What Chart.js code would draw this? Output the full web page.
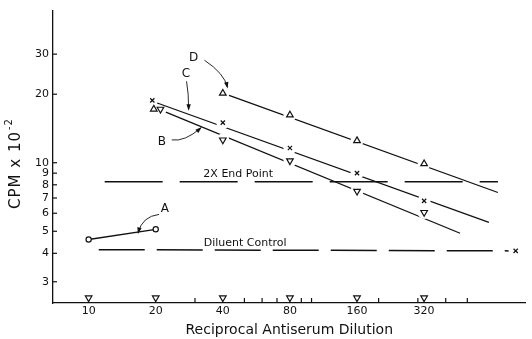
<!DOCTYPE html>
<html>
<head>
<meta charset="utf-8">
<script src="https://cdn.jsdelivr.net/npm/chart.js@4/dist/chart.umd.min.js"></script>
<style>
  html, body { margin: 0; padding: 0; background: #fff; }
  #wrap { width: 532px; height: 339px; }
</style>
</head>
<body>
<div id="wrap"><canvas id="cpmChart" width="532" height="339"></canvas></div>
<script>
// values: reciprocal antiserum dilution (x), CPM x 10^-2 (y)
const xTicks = [10, 20, 40, 80, 160, 320];
const xMinorTicks = [30, 50, 60, 70, 90, 100, 200, 300, 400, 500];
const yTicks = [3, 4, 5, 6, 7, 8, 9, 10, 20, 30];

const dilA = [10, 20];
const cpmA = [4.6, 5.1];

// the three points at 1:20 are drawn side by side in the original
const dilB = [21.0, 40, 80, 160, 320];
const cpmB = [17.2, 12.6, 10.2, 7.5, 6.05];

const dilC = [19.3, 40, 80, 160, 320];
const cpmC = [18.8, 15.0, 11.6, 9.0, 6.8];

const dilD = [19.6, 40, 80, 160, 320];
const cpmD = [17.2, 20.2, 16.2, 12.5, 9.9];

// fitted lines (start / end)
const fitDilB = [22.2, 464];
const fitCpmB = [16.7, 4.9];
const fitDilC = [20.3, 625];
const fitCpmC = [18.3, 5.47];
const fitDilD = [40, 686];
const fitCpmD = [20.2, 7.4];

// reference levels
const endPointDil = [11.8, 686];
const endPointCpm = [8.26, 8.26];
const diluentDil = [11.1, 766];
const diluentCpm = [4.15, 4.1];
const diluentMarkDil = [824];
const diluentMarkCpm = [4.1];

// open triangles sitting on the x axis
const baseDil = [10, 20, 40, 80, 160, 320];
const baseCpm = [2.55, 2.55, 2.55, 2.55, 2.55, 2.55];

const ink = '#111';
const family = '"DejaVu Sans", "Liberation Sans", sans-serif';

function pts(xs, ys) {
    return xs.map((x, i) => ({ x: x, y: ys[i] }));
}

// keep the gap round the plotted points on the fitted lines
function haloPts(xs, ys) {
    return pts(xs, ys).filter(p => p.x >= 40);
}

function markerSet(data, style, rot, r) {
    return {
        data: data,
        showLine: false,
        pointStyle: style,
        rotation: rot,
        pointRadius: r,
        pointBorderWidth: 1.2,
        pointBorderColor: ink,
        pointBackgroundColor: '#fff',
        clip: false,
        order: 0
    };
}

function lineSet(data, dash, width) {
    return {
        data: data,
        showLine: true,
        borderColor: ink,
        borderWidth: width,
        borderDash: dash,
        pointRadius: 0,
        clip: false,
        order: dash.length ? 3 : 2
    };
}

function haloSet(data) {
    return {
        data: data,
        showLine: false,
        pointStyle: 'circle',
        pointRadius: 6.5,
        pointBorderWidth: 0,
        pointBackgroundColor: '#fff',
        clip: false,
        order: 1
    };
}

// curve labels with their arrows (data coordinates)
const callouts = [
    { text: 'A', at: [22.0, 6.24], from: [20.7, 5.93], via: [17.4, 5.81], to: [16.7, 4.94] },
    { text: 'B', at: [21.3, 12.35], from: [23.6, 12.6], via: [27.0, 12.35], to: [31.8, 14.2] },
    { text: 'C', at: [27.3, 24.5], from: [27.5, 22.8], via: [28.1, 20.2], to: [28.1, 17.2] },
    { text: 'D', at: [29.6, 29.0], from: [33.1, 28.2], via: [40.6, 24.7], to: [41.9, 21.5] }
];

const notes = {
    id: 'notes',
    afterDatasetsDraw(chart) {
        const ctx = chart.ctx;
        const sx = chart.scales.x;
        const sy = chart.scales.y;
        const px = v => sx.getPixelForValue(v);
        const py = v => sy.getPixelForValue(v);

        ctx.save();
        ctx.strokeStyle = ink;
        ctx.fillStyle = ink;
        ctx.lineWidth = 1.2;

        // inward tick marks
        yTicks.forEach(v => {
            ctx.beginPath();
            ctx.moveTo(sx.left, py(v));
            ctx.lineTo(sx.left + 4, py(v));
            ctx.stroke();
        });
        xMinorTicks.forEach(v => {
            ctx.beginPath();
            ctx.moveTo(px(v), sy.bottom);
            ctx.lineTo(px(v), sy.bottom - 5);
            ctx.stroke();
        });

        ctx.textAlign = 'center';
        ctx.textBaseline = 'middle';
        ctx.font = '11px ' + family;
        ctx.fillText('2X End Point', px(46.9), py(8.95));
        ctx.fillText('Diluent Control', px(50.4), py(4.43));

        ctx.font = '12px ' + family;
        ctx.lineWidth = 0.9;
        callouts.forEach(c => {
            ctx.fillText(c.text, px(c.at[0]), py(c.at[1]));
            const x0 = px(c.from[0]), y0 = py(c.from[1]);
            const x1 = px(c.via[0]), y1 = py(c.via[1]);
            const x2 = px(c.to[0]), y2 = py(c.to[1]);
            ctx.beginPath();
            ctx.moveTo(x0, y0);
            ctx.quadraticCurveTo(x1, y1, x2, y2);
            ctx.stroke();
            const a = Math.atan2(y2 - y1, x2 - x1);
            ctx.beginPath();
            ctx.moveTo(x2 + Math.cos(a) * 1.5, y2 + Math.sin(a) * 1.5);
            ctx.lineTo(x2 - Math.cos(a) * 5 - Math.sin(a) * 2.2, y2 - Math.sin(a) * 5 + Math.cos(a) * 2.2);
            ctx.lineTo(x2 - Math.cos(a) * 5 + Math.sin(a) * 2.2, y2 - Math.sin(a) * 5 - Math.cos(a) * 2.2);
            ctx.closePath();
            ctx.fill();
        });

        // y axis title with the raised exponent
        ctx.translate(16, 164);
        ctx.rotate(-Math.PI / 2);
        ctx.textAlign = 'left';
        ctx.letterSpacing = '1px';
        ctx.font = '15px ' + family;
        const main = 'CPM x 10';
        const wMain = ctx.measureText(main).width;
        ctx.font = '10px ' + family;
        const wSup = ctx.measureText('-2').width;
        const start = -(wMain + wSup) / 2;
        ctx.font = '15px ' + family;
        ctx.fillText(main, start, 0);
        ctx.font = '10px ' + family;
        ctx.fillText('-2', start + wMain + 1, -7);
        ctx.restore();
    }
};

const ctx = document.getElementById('cpmChart').getContext('2d');

new Chart(ctx, {
    type: 'scatter',
    data: {
        datasets: [
            markerSet(pts(dilA, cpmA), 'circle', 0, 2.6),
            markerSet(pts(dilB, cpmB), 'triangle', 180, 3.8),
            markerSet(pts(dilC, cpmC), 'crossRot', 0, 3),
            markerSet(pts(dilD, cpmD), 'triangle', 0, 3.8),
            markerSet(pts(baseDil, baseCpm), 'triangle', 180, 3.8),
            markerSet(pts(diluentMarkDil, diluentMarkCpm), 'crossRot', 0, 3),
            haloSet(haloPts(dilB, cpmB)),
            haloSet(haloPts(dilC, cpmC)),
            haloSet(haloPts(dilD, cpmD)),
            lineSet(pts(dilA, cpmA), [], 1.3),
            lineSet(pts(fitDilB, fitCpmB), [], 1.3),
            lineSet(pts(fitDilC, fitCpmC), [], 1.3),
            lineSet(pts(fitDilD, fitCpmD), [], 1.3),
            lineSet(pts(endPointDil, endPointCpm), [58, 17], 1.5),
            lineSet(pts(diluentDil, diluentCpm), [46, 12], 1.5)
        ]
    },
    options: {
        responsive: false,
        animation: false,
        devicePixelRatio: 1,
        layout: { padding: { left: 0, right: 2, top: 9, bottom: 0 } },
        plugins: {
            legend: { display: false },
            tooltip: { enabled: false }
        },
        scales: {
            x: {
                type: 'logarithmic',
                min: 6.92,
                max: 912,
                bounds: 'data',
                grid: { display: false, drawTicks: false },
                border: { display: true, color: ink, width: 1.3 },
                afterBuildTicks: scale => { scale.ticks = xTicks.map(v => ({ value: v })); },
                afterFit: scale => { scale.height = 36; },
                ticks: {
                    autoSkip: false,
                    maxRotation: 0,
                    padding: 2,
                    color: ink,
                    font: { family: family, size: 11 },
                    callback: v => String(v)
                },
                title: {
                    display: true,
                    text: 'Reciprocal Antiserum Dilution',
                    color: ink,
                    padding: { top: 0, bottom: 0 },
                    font: { family: family, size: 14, lineHeight: 1.2 }
                }
            },
            y: {
                type: 'logarithmic',
                min: 2.42,
                max: 46.6,
                bounds: 'data',
                grid: { display: false, drawTicks: false },
                border: { display: true, color: ink, width: 1.3 },
                afterBuildTicks: scale => { scale.ticks = yTicks.map(v => ({ value: v })); },
                afterFit: scale => { scale.width = 53; },
                ticks: {
                    autoSkip: false,
                    padding: 4,
                    color: ink,
                    font: { family: family, size: 11 },
                    callback: v => String(v)
                }
            }
        }
    },
    plugins: [notes]
});
</script>
</body>
</html>
